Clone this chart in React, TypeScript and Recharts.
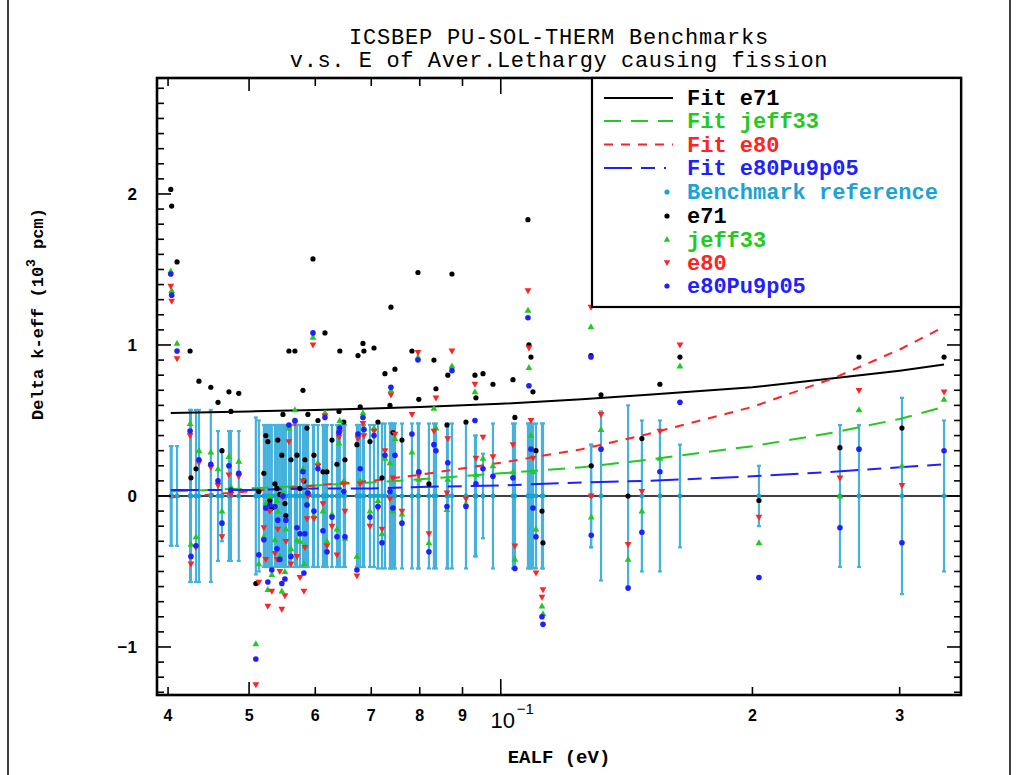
import React from 'react';
import { ComposedChart, Scatter, Line, XAxis, YAxis, ErrorBar, ReferenceLine } from 'recharts';

// ---------- data ----------
const ealf = [
  0.0403, 0.0404, 0.0410, 0.0425, 0.0426, 0.0432, 0.04355, 0.0450, 0.0459, 0.0464, 0.0473, 0.04756, 0.0486,
  0.05094, 0.05136, 0.05208, 0.05236, 0.05265, 0.05294, 0.05323, 0.05369, 0.05399, 0.05412, 0.05442, 0.05472,
  0.05489, 0.05519, 0.05533, 0.0558, 0.05611, 0.05673, 0.05705, 0.05752, 0.0580, 0.05815, 0.05831, 0.05864,
  0.05879, 0.05962, 0.05978, 0.06044, 0.06128, 0.06162, 0.06196, 0.06282, 0.06369, 0.06405, 0.0642, 0.0649,
  0.06511, 0.06729, 0.06749, 0.0679, 0.06842, 0.0686, 0.06975, 0.07053,
  0.0713, 0.0721, 0.07269, 0.0737, 0.0739, 0.07472, 0.07431, 0.07618, 0.0783, 0.07961, 0.0798, 0.08205,
  0.08319, 0.08365, 0.08623, 0.08643, 0.08742, 0.09086, 0.09314, 0.09339, 0.09522, 0.09787, 0.10342, 0.10397,
  0.10778, 0.10807, 0.10867, 0.10927, 0.11018, 0.11202, 0.11233,
  0.1282, 0.1283, 0.1318, 0.1420, 0.1475, 0.1550, 0.1638, 0.2036, 0.2545, 0.2682, 0.3019, 0.339,
];
const sigma = [
  0.33, 0.33, 0.33, 0.57, 0.57, 0.57, 0.57, 0.57, 0.43, 0.30, 0.43, 0.43, 0.43,
  0.52, 0.50, 0.47, 0.47, 0.47, 0.47, 0.47, 0.47, 0.47, 0.47, 0.47, 0.47,
  0.47, 0.47, 0.47, 0.47, 0.47, 0.47, 0.47, 0.47, 0.47, 0.47, 0.47, 0.47,
  0.47, 0.47, 0.47, 0.47, 0.47, 0.47, 0.47, 0.47, 0.47, 0.47, 0.47, 0.47,
  0.47, 0.47, 0.47, 0.47, 0.47, 0.47, 0.47, 0.47,
  0.48, 0.48, 0.48, 0.48, 0.48, 0.48, 0.48, 0.48, 0.48, 0.48, 0.48, 0.48,
  0.48, 0.48, 0.48, 0.48, 0.48, 0.48, 0.40, 0.40, 0.28, 0.48, 0.48, 0.48,
  0.48, 0.48, 0.48, 0.48, 0.48, 0.48, 0.48,
  0.34, 0.34, 0.56, 0.60, 0.50, 0.50, 0.34, 0.20, 0.47, 0.47, 0.65, 0.50,
];
const e71 = [
  2.03, 1.92, 1.55, 0.96, 0.12, 0.18, 0.76, 0.72, 0.62, 0.30, 0.69, 0.56, 0.68,
  -0.58, 0.03, 0.15, 0.40, 0.36, -0.03, -0.08, 0.08, 0.05, 0.37, 0.01, 0.27,
  0.54, -0.05, -0.13, 0.96, 0.24, 0.96, 0.27, 0.05, 0.70, 0.10, 0.24, 0.45,
  0.54, 1.57, 0.27, 0.50, 0.16, 1.08, 0.16, 0.37, 0.21, 0.56, 0.96, 0.49,
  0.24, 0.34, 0.93, 0.59, 1.01, 0.96, 0.36, 0.98,
  0.49, 0.12, 0.81, 0.60, 1.25, 0.84, 0.42, 0.37, 0.96, 1.48, 0.64, 0.08,
  0.90, 0.71, 0.47, 0.80, 1.47, 0.49, 0.80, 0.65, 0.81, 0.74, 0.77, 0.52,
  1.83, 1.00, 0.92, 0.69, 0.30, -0.10, -0.31,
  0.93, 0.20, 0.67, 0.00, 0.38, 0.74, 0.92, -0.03, 0.32, 0.92, 0.45, 0.92,
];
const jeff33 = [
  1.49, 1.36, 1.01, 0.48, -0.32, -0.27, 0.30, 0.29, 0.18, -0.10, 0.26, 0.06, 0.23,
  -0.98, -0.45, -0.27, -0.05, -0.62, 0.00, -0.52, -0.29, -0.03, -0.10, -0.40, -0.63,
  0.02, -0.50, -0.22, 0.45, -0.35, 0.57, -0.29, -0.30, 0.18, -0.45, -0.33, -0.05,
  0.03, 1.05, -0.13, 0.22, -0.10, 0.55, -0.30, -0.12, -0.22, 0.35, 0.50, 0.10,
  -0.28, -0.40, 0.41, 0.10, 0.55, 0.45, -0.10, 0.45,
  -0.03, -0.25, 0.25, 0.22, 0.70, 0.38, -0.10, -0.12, 0.29, 0.92, 0.11, -0.31,
  0.58, 0.45, -0.09, 0.11, 0.86, -0.05, 0.69, 0.14, 0.25, 0.20, 0.16, -0.42,
  1.23, 0.85, 0.40, 0.16, -0.22, -0.73, -0.78,
  1.12, -0.14, 0.44, -0.42, -0.10, 0.25, 0.86, -0.31, 0.00, 0.57, 0.20, 0.64,
];
const e80 = [
  1.39, 1.29, 0.91, 0.40, -0.45, -0.34, 0.22, 0.19, 0.07, -0.27, 0.14, 0.01, 0.13,
  -1.25, -0.57, -0.21, -0.42, -0.73, -0.10, -0.63, -0.38, -0.42, -0.22, -0.50, -0.75,
  -0.01, -0.66, -0.30, 0.36, -0.45, 0.48, -0.40, -0.54, 0.10, -0.63, -0.34, -0.15,
  0.00, 1.00, -0.15, 0.20, -0.05, 0.53, -0.33, -0.20, -0.39, 0.39, 0.42, 0.08,
  -0.10, -0.53, 0.38, 0.08, 0.48, 0.40, -0.20, 0.43,
  -0.08, -0.22, 0.30, -0.02, 0.67, 0.41, 0.12, -0.10, 0.54, 0.95, 0.14, -0.25,
  0.43, 0.65, 0.02, 0.38, 0.96, -0.02, 0.74, 0.25, 0.39, 0.26, 0.34, -0.33,
  1.36, 0.98, 0.50, 0.25, -0.51, -0.67, -0.62,
  1.25, 0.00, 0.54, -0.32, 0.03, 0.43, 1.00, -0.14, 0.12, 0.70, 0.07, 0.69,
];
const e80Pu9p05 = [
  1.47, 1.33, 0.96, 0.43, -0.40, -0.33, 0.24, 0.21, 0.10, -0.18, 0.20, 0.04, 0.15,
  -1.08, -0.39, -0.29, -0.08, -0.57, -0.06, -0.49, -0.07, -0.35, -0.16, -0.42, -0.58,
  0.00, -0.55, -0.16, 0.47, -0.40, 0.50, -0.21, -0.25, 0.16, -0.51, -0.25, -0.06,
  0.02, 1.08, -0.10, 0.18, -0.23, 0.52, -0.37, -0.14, -0.27, 0.42, 0.45, 0.03,
  -0.27, -0.49, 0.41, 0.18, 0.52, 0.44, -0.14, 0.40,
  -0.07, -0.31, 0.27, 0.03, 0.72, 0.27, -0.08, -0.18, 0.41, 0.90, 0.16, -0.37,
  0.34, 0.30, -0.07, 0.22, 0.83, -0.07, 0.50, 0.08, 0.18, 0.13, 0.12, -0.48,
  1.18, 0.73, 0.31, -0.08, -0.27, -0.80, -0.85,
  0.92, -0.26, 0.31, -0.61, -0.24, 0.16, 0.62, -0.54, -0.21, 0.31, -0.31, 0.30,
];

// fitted curves, read at a set of energies
const fitEalf = [0.0403, 0.05, 0.06, 0.07, 0.08, 0.1, 0.125, 0.15, 0.2, 0.25, 0.3, 0.339];
const fitE71 = [0.55, 0.56, 0.57, 0.58, 0.59, 0.61, 0.64, 0.67, 0.72, 0.78, 0.83, 0.87];
const fitJeff33 = [0.03, 0.05, 0.07, 0.09, 0.11, 0.15, 0.19, 0.24, 0.33, 0.42, 0.51, 0.59];
const fitE80 = [-0.01, 0.03, 0.07, 0.10, 0.14, 0.22, 0.31, 0.41, 0.59, 0.78, 0.97, 1.12];
const fitE80Pu9p05 = [0.04, 0.04, 0.05, 0.05, 0.06, 0.07, 0.09, 0.10, 0.13, 0.16, 0.19, 0.21];

// axis ticks
const xTicks = [0.04, 0.05, 0.06, 0.07, 0.08, 0.09, 0.1, 0.2, 0.3];
const xTickLabels = ['4', '5', '6', '7', '8', '9', '10^−1', '2', '3'];
const yTicks = [
  -1.3, -1.2, -1.1, -1.0, -0.9, -0.8, -0.7, -0.6, -0.5, -0.4, -0.3, -0.2, -0.1, 0,
  0.1, 0.2, 0.3, 0.4, 0.5, 0.6, 0.7, 0.8, 0.9, 1.0, 1.1, 1.2, 1.3, 1.4, 1.5, 1.6, 1.7,
  1.8, 1.9, 2.0, 2.1, 2.2, 2.3, 2.4, 2.5, 2.6, 2.7,
];
const yTickLabels = ['−1', '0', '1', '2'];
const yLabelValues = [-1, 0, 1, 2];

// ---------- layout / style ----------
const W = 1018;
const H = 775;
const PL = 157;
const PR = 961;
const PT = 78;
const PB = 695;
const X_DOMAIN: [number, number] = [0.0388, 0.3552];
const Y_DOMAIN: [number, number] = [-1.318, 2.768];

const C_GREEN = '#22c922';
const C_RED = '#ff2323';
const C_BLUE = '#1f1fff';
const C_CYAN = '#1ba2d6';
const C_BAR = '#45b2de';
const MONO = '"Liberation Mono", "DejaVu Sans Mono", monospace';
const SANS = '"Liberation Sans", Arial, sans-serif';

const toPts = (ys: number[]) => ealf.map((x, i) => ({ x, y: ys[i] }));
const benchData = ealf.map((x, i) => ({ x, y: 0, err: sigma[i] }));
const toFit = (ys: number[]) => fitEalf.map((x, i) => ({ x, y: ys[i] }));

const dotShape = (color: string, r: number) => (p: any) =>
  p.cx == null ? <g /> : <circle cx={p.cx} cy={p.cy} r={r} fill={color} />;
const triUp = (color: string) => (p: any) =>
  p.cx == null ? <g /> : (
    <path d={`M${p.cx},${p.cy - 3.6} L${p.cx + 3.4},${p.cy + 2.4} L${p.cx - 3.4},${p.cy + 2.4} Z`} fill={color} />
  );
const triDown = (color: string) => (p: any) =>
  p.cx == null ? <g /> : (
    <path d={`M${p.cx},${p.cy + 3.6} L${p.cx + 3.4},${p.cy - 2.4} L${p.cx - 3.4},${p.cy - 2.4} Z`} fill={color} />
  );

const XTick = (props: any) => {
  const { x, payload } = props;
  const v = payload.value;
  const idx = xTicks.indexOf(v);
  const label = idx >= 0 ? xTickLabels[idx] : '';
  const len = v === 0.1 ? 16 : v === 0.05 ? 13 : 8;
  const parts = label.split('^');
  return (
    <g>
      <line x1={x} x2={x} y1={PB} y2={PB - len} stroke="#000" strokeWidth={1.6} />
      <line x1={x} x2={x} y1={PT} y2={PT + len} stroke="#000" strokeWidth={1.6} />
      {parts.length === 2 ? (
        <g>
          <text x={x + 2} y={728} textAnchor="middle" fontFamily={SANS} fontSize={22} fill="#000">
            {parts[0]}
          </text>
          <text x={x + 16} y={714} textAnchor="start" fontFamily={SANS} fontSize={15} fill="#000">
            {parts[1]}
          </text>
        </g>
      ) : (
        <text x={x} y={721} textAnchor="middle" fontFamily={SANS} fontWeight="bold" fontSize={16} fill="#000">
          {label}
        </text>
      )}
    </g>
  );
};

const YTick = (props: any) => {
  const { y, payload } = props;
  const v = payload.value;
  const li = yLabelValues.findIndex((t) => Math.abs(t - v) < 1e-6);
  const major = li >= 0;
  const len = major ? 14 : 7;
  return (
    <g>
      <line x1={PL} x2={PL + len} y1={y} y2={y} stroke="#000" strokeWidth={1.6} />
      <line x1={PR} x2={PR - len} y1={y} y2={y} stroke="#000" strokeWidth={1.6} />
      {major && (
        <text x={137} y={y + 6} textAnchor="end" fontFamily={SANS} fontWeight="bold" fontSize={17} fill="#000">
          {yTickLabels[li]}
        </text>
      )}
    </g>
  );
};

const legendLines = [
  { label: 'Fit e71', color: '#000', dash: undefined as string | undefined, y: 98 },
  { label: 'Fit jeff33', color: C_GREEN, dash: '17 10', y: 121 },
  { label: 'Fit e80', color: C_RED, dash: '9 8', y: 144.5 },
  { label: 'Fit e80Pu9p05', color: C_BLUE, dash: '28 9 14 9 2 9', y: 168 },
];
const legendMarks = [
  { label: 'Benchmark reference', color: C_CYAN, kind: 'dot', y: 192 },
  { label: 'e71', color: '#000', kind: 'dot', y: 216 },
  { label: 'jeff33', color: C_GREEN, kind: 'up', y: 239.5 },
  { label: 'e80', color: C_RED, kind: 'down', y: 262.5 },
  { label: 'e80Pu9p05', color: C_BLUE, kind: 'dot', y: 286 },
];

const Overlay = () => (
  <svg
    width={W}
    height={H}
    style={{ position: 'absolute', left: 0, top: 0, pointerEvents: 'none' }}
  >
    {/* page border */}
    <line x1={8} x2={8} y1={0} y2={H} stroke="#000" strokeWidth={1.5} />
    <line x1={1010} x2={1010} y1={0} y2={H} stroke="#000" strokeWidth={1.5} />
    {/* title */}
    <text x={559} y={44} textAnchor="middle" fontFamily={MONO} fontSize={22} letterSpacing={0.8} fill="#000">
      ICSBEP PU-SOL-THERM Benchmarks
    </text>
    <text x={559} y={67} textAnchor="middle" fontFamily={MONO} fontSize={22} letterSpacing={0.6} fill="#000">
      v.s. E of Aver.Lethargy causing fission
    </text>
    {/* axis titles */}
    <text x={559} y={763} textAnchor="middle" fontFamily={MONO} fontSize={19} fontWeight="bold" fill="#000">
      EALF (eV)
    </text>
    <text
      transform="translate(43,314) rotate(-90)"
      textAnchor="middle"
      fontFamily={MONO}
      fontSize={17}
      fontWeight="bold"
      fill="#000"
    >
      Delta k-eff (10
      <tspan dy={-8} fontSize={13}>3</tspan>
      <tspan dy={8}> pcm)</tspan>
    </text>
    {/* plot frame */}
    <rect x={PL} y={PT} width={PR - PL} height={PB - PT} fill="none" stroke="#000" strokeWidth={2.6} />
    {/* legend */}
    <rect x={592} y={PT} width={PR - 592} height={229} fill="#fff" stroke="#000" strokeWidth={2.2} />
    {legendLines.map((l) => (
      <g key={l.label}>
        <line x1={604} x2={673} y1={l.y} y2={l.y} stroke={l.color} strokeWidth={2} strokeDasharray={l.dash} />
        <text x={687} y={l.y + 7} fontFamily={MONO} fontSize={22} fontWeight="bold" fill={l.color}>
          {l.label}
        </text>
      </g>
    ))}
    {legendMarks.map((m) => (
      <g key={m.label}>
        {m.kind === 'dot' && <circle cx={667} cy={m.y} r={2.6} fill={m.color} />}
        {m.kind === 'up' && (
          <path d={`M667,${m.y - 3.4} L670.2,${m.y + 2.2} L663.8,${m.y + 2.2} Z`} fill={m.color} />
        )}
        {m.kind === 'down' && (
          <path d={`M667,${m.y + 3.4} L670.2,${m.y - 2.2} L663.8,${m.y - 2.2} Z`} fill={m.color} />
        )}
        <text x={687} y={m.y + 7} fontFamily={MONO} fontSize={22} fontWeight="bold" fill={m.color}>
          {m.label}
        </text>
      </g>
    ))}
  </svg>
);

export default function App() {
  return (
    <div style={{ position: 'absolute', left: 0, top: 0, width: W, height: H, background: '#fff' }}>
      <ComposedChart width={W} height={H} margin={{ top: PT, right: W - PR, bottom: 0, left: 0 }}>
        <XAxis
          dataKey="x"
          type="number"
          scale="log"
          domain={X_DOMAIN}
          allowDataOverflow
          ticks={xTicks}
          interval={0}
          height={H - PB}
          axisLine={false}
          tickLine={false}
          tick={XTick}
        />
        <YAxis
          type="number"
          domain={Y_DOMAIN}
          allowDataOverflow
          ticks={yTicks}
          interval={0}
          width={PL}
          axisLine={false}
          tickLine={false}
          tick={YTick}
        />
        <ReferenceLine y={0} stroke="#000" strokeWidth={1.6} />
        <Scatter
          name="Benchmark reference"
          data={benchData}
          dataKey="y"
          isAnimationActive={false}
          shape={dotShape(C_CYAN, 2.4)}
        >
          <ErrorBar dataKey="err" direction="y" width={2} stroke={C_BAR} strokeWidth={2.2} />
        </Scatter>
        <Line data={toFit(fitE71)} dataKey="y" type="linear" stroke="#000" strokeWidth={2} dot={false} isAnimationActive={false} />
        <Line data={toFit(fitJeff33)} dataKey="y" type="linear" stroke={C_GREEN} strokeWidth={2} strokeDasharray="17 10" dot={false} isAnimationActive={false} />
        <Line data={toFit(fitE80)} dataKey="y" type="linear" stroke={C_RED} strokeWidth={2} strokeDasharray="9 8" dot={false} isAnimationActive={false} />
        <Line data={toFit(fitE80Pu9p05)} dataKey="y" type="linear" stroke={C_BLUE} strokeWidth={2} strokeDasharray="28 9 14 9" dot={false} isAnimationActive={false} />
        <Scatter name="e71" data={toPts(e71)} dataKey="y" isAnimationActive={false} shape={dotShape('#000', 2.6)} />
        <Scatter name="jeff33" data={toPts(jeff33)} dataKey="y" isAnimationActive={false} shape={triUp(C_GREEN)} />
        <Scatter name="e80" data={toPts(e80)} dataKey="y" isAnimationActive={false} shape={triDown(C_RED)} />
        <Scatter name="e80Pu9p05" data={toPts(e80Pu9p05)} dataKey="y" isAnimationActive={false} shape={dotShape(C_BLUE, 2.8)} />
      </ComposedChart>
      <Overlay />
    </div>
  );
}
